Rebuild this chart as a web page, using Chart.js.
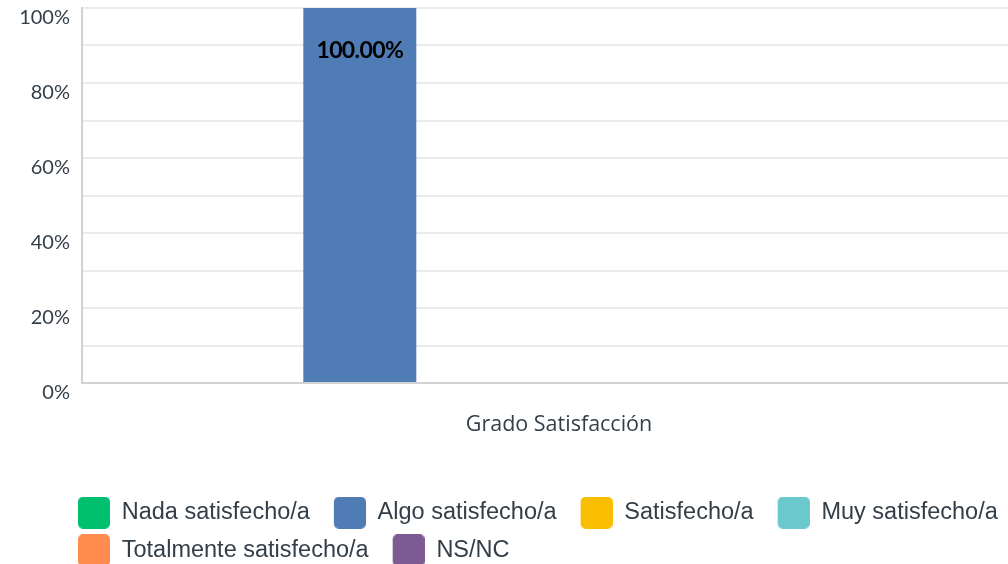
<!DOCTYPE html>
<html><head><meta charset="utf-8">
<script src="https://cdn.jsdelivr.net/npm/chart.js@4.4.1/dist/chart.umd.min.js"></script>
<style>html,body{margin:0;padding:0;background:#fff;overflow:hidden}#wrap{width:1008px;height:564px;position:relative}</style>
</head><body><div id="wrap"><canvas id="c" width="1008" height="564"></canvas></div>
<script>
const categories = ['Grado Satisfacción'];
const seriesNames = ['Nada satisfecho/a','Algo satisfecho/a','Satisfecho/a','Muy satisfecho/a','Totalmente satisfecho/a','NS/NC'];
const nadaValues = [0];
const algoValues = [100];
const satisfechoValues = [0];
const muyValues = [0];
const totalmenteValues = [0];
const nsncValues = [0];
const seriesColors = ['#00BF6F','#507CB6','#F9BE00','#6BC8CD','#FF8B4F','#7D5A91'];
const yTickLabels = [0, 20, 40, 60, 80, 100];

const seriesValues = [nadaValues, algoValues, satisfechoValues, muyValues, totalmenteValues, nsncValues];
const TEXT = '#333e48';

function makeIcon(color){
  const c = document.createElement('canvas');
  c.width = 42; c.height = 32;
  const g = c.getContext('2d');
  g.fillStyle = color;
  g.beginPath();
  if (g.roundRect) g.roundRect(10, 0, 32, 32, 5); else g.rect(10,0,32,32);
  g.fill();
  return c;
}
const legendIcons = seriesColors.map(makeIcon);

const barLabels = {
  id: 'barLabels',
  afterDatasetsDraw(chart){
    const ctx = chart.ctx;
    chart.data.datasets.forEach((ds, i) => {
      const meta = chart.getDatasetMeta(i);
      if (meta.hidden) return;
      meta.data.forEach((bar, j) => {
        const v = ds.data[j];
        if (!v) return;
        ctx.save();
        ctx.font = 'bold 23px Lato';
        try { ctx.letterSpacing = '-0.6px'; } catch(e) {}
        ctx.fillStyle = '#000';
        ctx.textAlign = 'center';
        ctx.textBaseline = 'middle';
        ctx.fillText(v.toFixed(2) + '%', bar.x, bar.y + 43);
        ctx.restore();
      });
    });
  }
};

const legendShift = {
  id: 'legendShift',
  afterLayout(chart){
    const lg = chart.legend;
    if (!lg) return;
    lg.left += 54; lg.right += 54;
    lg.top += 8; lg.bottom += 8;
  }
};

function build(){
  new Chart(document.getElementById('c'), {
    type: 'bar',
    data: {
      labels: categories,
      datasets: seriesNames.map((name, i) => ({
        label: name,
        data: seriesValues[i],
        backgroundColor: seriesColors[i],
        borderWidth: 0,
        barPercentage: 0.915,
        categoryPercentage: 0.8
      }))
    },
    options: {
      responsive: false,
      animation: false,
      events: [],
      layout: { padding: { left: 0, right: 0, top: 0, bottom: 0 } },
      plugins: {
        tooltip: { enabled: false },
        title: { display: false },
        legend: {
          position: 'bottom',
          align: 'start',
          labels: {
            usePointStyle: true,
            pointStyleWidth: 42,
            boxHeight: 22,
            padding: 14,
            color: TEXT,
            font: { family: 'Liberation Sans', size: 23.5 },
            generateLabels(chart){
              const items = Chart.defaults.plugins.legend.labels.generateLabels(chart);
              items.forEach(it => { it.pointStyle = legendIcons[it.datasetIndex]; it.lineWidth = 0; });
              return items;
            }
          }
        }
      },
      scales: {
        x: {
          grid: { display: false, drawTicks: false },
          border: { display: true, color: '#d2d2d2', width: 2 },
          ticks: { color: TEXT, font: { family: 'Open Sans', size: 21.5 }, padding: 29, labelOffset: 14 },
          afterFit(s){ s.height = 96; }
        },
        y: {
          min: 0, max: 100,
          grid: { color: '#ebebeb', lineWidth: 2, drawTicks: false },
          border: { display: true, color: '#d2d2d2', width: 2 },
          ticks: {
            stepSize: 10,
            color: TEXT,
            font: { family: 'Lato', size: 20 },
            padding: 12,
            labelOffset: 10,
            callback: v => yTickLabels.includes(v) ? v + '%' : ''
          },
          afterFit(s){ s.width = 82; s.paddingTop = 8; }
        }
      }
    },
    plugins: [barLabels, legendShift]
  });
}
const fl = ['20px Lato','bold 23px Lato','21.5px "Open Sans"','23.5px "Liberation Sans"'].map(f => document.fonts.load(f).catch(()=>{}));
Promise.all(fl).then(build, build);
</script></body></html>
